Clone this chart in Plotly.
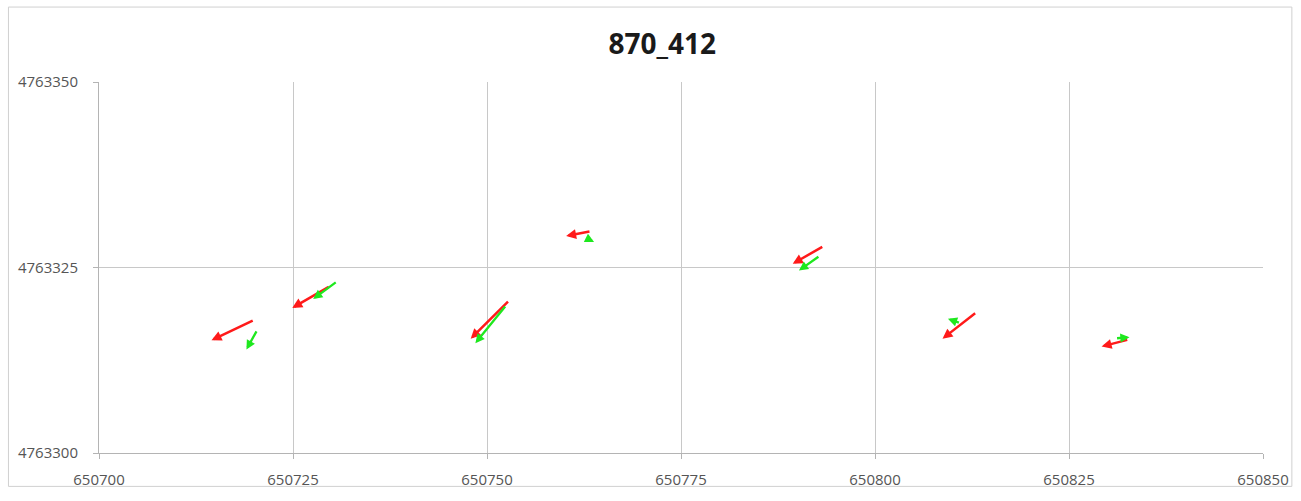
import plotly.graph_objects as go

# Displacement vectors: tail (x0, y0) -> head (x1, y1), projected easting / northing
red_x0 = [650720.0, 650729.8, 650752.9, 650763.4, 650793.4, 650813.1, 650832.7]
red_y0 = [4763317.95, 4763322.5, 4763320.6, 4763329.9, 4763327.9, 4763319.0, 4763315.3]
red_x1 = [650714.5, 650724.9, 650747.9, 650760.2, 650789.4, 650808.7, 650829.2]
red_y1 = [4763315.2, 4763319.55, 4763315.4, 4763329.25, 4763325.5, 4763315.4, 4763314.35]

green_x0 = [650720.4, 650730.7, 650752.5, 650762.75, 650792.9, 650811.0, 650831.0]
green_y0 = [4763316.6, 4763323.15, 4763319.95, 4763329.0, 4763326.6, 4763317.5, 4763315.45]
green_x1 = [650719.0, 650727.6, 650748.5, 650763.8, 650790.2, 650809.4, 650832.8]
green_y1 = [4763313.95, 4763320.75, 4763314.8, 4763328.45, 4763324.6, 4763318.1, 4763315.6]

x_ticks = [650700, 650725, 650750, 650775, 650800, 650825, 650850]
y_ticks = [4763300, 4763325, 4763350]

fig = go.Figure()
# invisible trace so the axes are drawn
fig.add_trace(go.Scatter(x=[x_ticks[0], x_ticks[-1]], y=[y_ticks[0], y_ticks[-1]],
                         mode="markers", marker=dict(opacity=0), hoverinfo="skip",
                         showlegend=False))

annotations = []


def add_arrows(x0s, y0s, x1s, y1s, color, width):
    for x0, y0, x1, y1 in zip(x0s, y0s, x1s, y1s):
        annotations.append(dict(
            x=x1, y=y1, ax=x0, ay=y0,
            xref="x", yref="y", axref="x", ayref="y",
            text="", showarrow=True, arrowhead=2, arrowsize=0.8,
            arrowwidth=width, arrowcolor=color, standoff=0, startstandoff=0,
        ))


add_arrows(red_x0, red_y0, red_x1, red_y1, "#ff1a1a", 2.5)
add_arrows(green_x0, green_y0, green_x1, green_y1, "#1ee81e", 2.3)

tick_font = dict(family="Open Sans, sans-serif", size=15, color="#555555")

fig.update_layout(
    width=1301, height=501,
    margin=dict(l=99, r=33, t=82, b=43),
    paper_bgcolor="white", plot_bgcolor="white",
    showlegend=False,
    title=dict(text="<b>870_412</b>", x=0.509, xref="container", xanchor="center",
               y=0.912, yanchor="middle",
               font=dict(family="Open Sans, sans-serif", size=28, color="#1a1a1a")),
    xaxis=dict(range=[x_ticks[0], x_ticks[-1]], tickvals=x_ticks,
               ticktext=[str(v) for v in x_ticks], showgrid=True,
               gridcolor="#c8c8c8", gridwidth=1, zeroline=False,
               showline=True, linecolor="#b4b4b4", linewidth=1,
               ticks="outside", ticklen=5, tickcolor="#b4b4b4",
               tickfont=tick_font, ticklabelstandoff=8),
    yaxis=dict(range=[y_ticks[0], y_ticks[-1]], tickvals=y_ticks,
               ticktext=[str(v) for v in y_ticks], showgrid=True,
               gridcolor="#c8c8c8", gridwidth=1, zeroline=False,
               showline=True, linecolor="#b4b4b4", linewidth=1,
               ticks="outside", ticklen=5, tickcolor="#b4b4b4",
               tickfont=tick_font, ticklabelstandoff=12),
    annotations=annotations,
    shapes=[dict(type="rect", xref="paper", yref="paper",
                 x0=-0.0778, x1=1.0248, y0=-0.09, y1=1.202,
                 line=dict(color="#d0d0d0", width=1), fillcolor="rgba(0,0,0,0)",
                 layer="below")],
)

fig.write_html("out.html")
